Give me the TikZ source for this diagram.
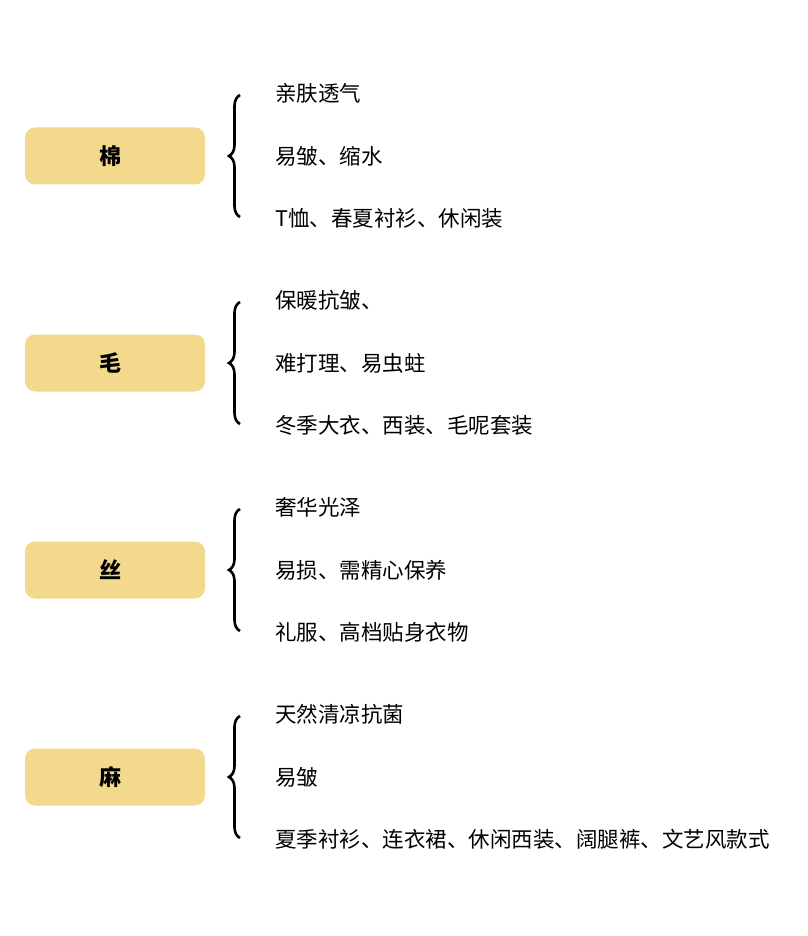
\documentclass[tikz,border=0pt]{standalone}
\usepackage{fontspec}
\setmainfont{Noto Sans CJK SC}
\usetikzlibrary{decorations.pathreplacing}
\definecolor{boxc}{HTML}{F3D98C}
\tikzset{cat/.style={fill=boxc,rounded corners=10pt,minimum width=180pt,minimum height=57pt,inner sep=0pt},
lab/.style={font=\fontsize{22}{24}\selectfont\bfseries,inner sep=0pt},
item/.style={anchor=west,font=\fontsize{21.5}{24}\selectfont,inner sep=0pt},
br/.style={draw,line width=2.6pt,decorate,decoration={brace,amplitude=11pt}}}
\begin{document}
\begin{tikzpicture}[x=1pt,y=-1pt]
\useasboundingbox (0,0) rectangle (807,936);
\foreach \n/\c/\a/\b/\d [count=\i] in {
棉/156/亲肤透气/易皱、缩水/T恤、春夏衬衫、休闲装,
毛/363/保暖抗皱、/难打理、易虫蛀/冬季大衣、西装、毛呢套装,
丝/570/奢华光泽/易损、需精心保养/礼服、高档贴身衣物,
麻/777/天然清凉抗菌/易皱/夏季衬衫、连衣裙、休闲西装、阔腿裤、文艺风款式}{
\node[cat] (c\i) at (115,\c) {};
\node[lab] (l\i) at (110,\c) {\n};
\node[item] (a\i) at (275,\c-62.5) {\a};
\node[item] (b\i) at (275,\c) {\b};
\node[item] (d\i) at (275,\c+62.5) {\d};
\coordinate (t\i) at (240,\c-61);
\coordinate (u\i) at (240,\c+61);
\draw[br] (u\i) -- (t\i);
}
\end{tikzpicture}
\end{document}
